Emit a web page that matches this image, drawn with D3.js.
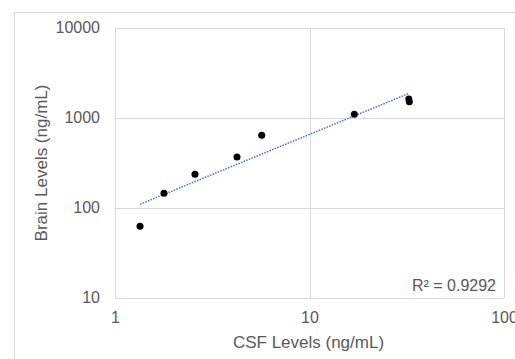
<!DOCTYPE html>
<html>
<head>
<meta charset="utf-8">
<script src="https://cdn.jsdelivr.net/npm/d3@7"></script>
<style>
  html, body { margin: 0; padding: 0; background: #fff; }
  svg { display: block; font-family: "Liberation Sans", Arial, sans-serif; }
</style>
</head>
<body>
<svg id="chart" width="515" height="359"></svg>
<script>
// Data
const csfLevels   = [1.345, 1.786, 2.578, 4.24, 5.68, 17.0, 32.4, 32.6];
const brainLevels = [62.6, 145.6, 236.8, 369, 643, 1099, 1626, 1517];
const xTicks = [1, 10, 100];
const yTicks = [10, 100, 1000, 10000];
const xTitle = "CSF Levels (ng/mL)";
const yTitle = "Brain Levels (ng/mL)";
const rSquaredLabel = "R\u00B2 = 0.9292";

const svg = d3.select("#chart");
const W = 515, H = 359;
const plot = { left: 115, top: 28, right: 504, bottom: 298 };

const x = d3.scaleLog().domain([1, 100]).range([plot.left, plot.right]);
const y = d3.scaleLog().domain([10, 10000]).range([plot.bottom, plot.top]);

const grid = "#d9d9d9";
const textCol = "#595959";
const font = '"Liberation Sans", Arial, sans-serif';

// outer chart border
svg.append("rect")
  .attr("x", 14.5).attr("y", 12.5)
  .attr("width", W).attr("height", H)
  .attr("fill", "none").attr("stroke", grid).attr("stroke-width", 1);

// gridlines
svg.append("g").selectAll("line").data(yTicks).join("line")
  .attr("x1", plot.left).attr("x2", plot.right)
  .attr("y1", d => Math.round(y(d)) + 0.5).attr("y2", d => Math.round(y(d)) + 0.5)
  .attr("stroke", grid).attr("stroke-width", 1);
svg.append("g").selectAll("line").data(xTicks).join("line")
  .attr("y1", plot.top).attr("y2", plot.bottom)
  .attr("x1", d => Math.round(x(d)) + 0.5).attr("x2", d => Math.round(x(d)) + 0.5)
  .attr("stroke", grid).attr("stroke-width", 1);

// axes (labels only, via d3 axes)
const xAxis = svg.append("g")
  .attr("transform", `translate(0,${plot.bottom})`)
  .call(d3.axisBottom(x).tickValues(xTicks).tickFormat(d3.format("d")).tickSize(0).tickPadding(14));
const yAxis = svg.append("g")
  .attr("transform", `translate(${plot.left},0)`)
  .call(d3.axisLeft(y).tickValues(yTicks).tickFormat(d3.format("d")).tickSize(0).tickPadding(15));
[xAxis, yAxis].forEach(g => {
  g.select(".domain").remove();
  g.selectAll("text").attr("fill", textCol).style("font-size", "16px").style("font-family", font);
});
yAxis.selectAll("text").attr("dy", "0.28em");

// trendline (power fit in log-log space)
const lx = csfLevels.map(Math.log10), ly = brainLevels.map(Math.log10);
const mx = d3.mean(lx), my = d3.mean(ly);
const slope = d3.sum(lx, (v, i) => (v - mx) * (ly[i] - my)) / d3.sum(lx, v => (v - mx) ** 2);
const intercept = my - slope * mx;
const [xmin, xmax] = d3.extent(csfLevels);
const trend = [xmin, xmax].map(v => [v, Math.pow(10, intercept + slope * Math.log10(v))]);
svg.append("path")
  .attr("d", d3.line().x(d => x(d[0])).y(d => y(d[1]))(trend))
  .attr("fill", "none").attr("stroke", "#4a7bd0")
  .attr("stroke-width", 1.5).attr("stroke-dasharray", "1.6,1.2");

// points
svg.append("g").selectAll("circle").data(csfLevels).join("circle")
  .attr("cx", d => x(d)).attr("cy", (d, i) => y(brainLevels[i]))
  .attr("r", 3.5).attr("fill", "#000");

// R² label
svg.append("text")
  .attr("x", 496).attr("y", 285.5).attr("dy", "0.35em")
  .attr("text-anchor", "end").attr("fill", textCol).style("font-size", "16px")
  .text(rSquaredLabel);

// axis titles
svg.append("text")
  .attr("x", (plot.left + plot.right) / 2 - 1).attr("y", 342).attr("dy", "0.35em")
  .attr("text-anchor", "middle").attr("fill", textCol).style("font-size", "17px")
  .text(xTitle);
svg.append("text")
  .attr("transform", `translate(41,${(plot.top + plot.bottom) / 2}) rotate(-90)`)
  .attr("dy", "0.35em")
  .attr("text-anchor", "middle").attr("fill", textCol).style("font-size", "17px")
  .text(yTitle);
</script>
</body>
</html>
